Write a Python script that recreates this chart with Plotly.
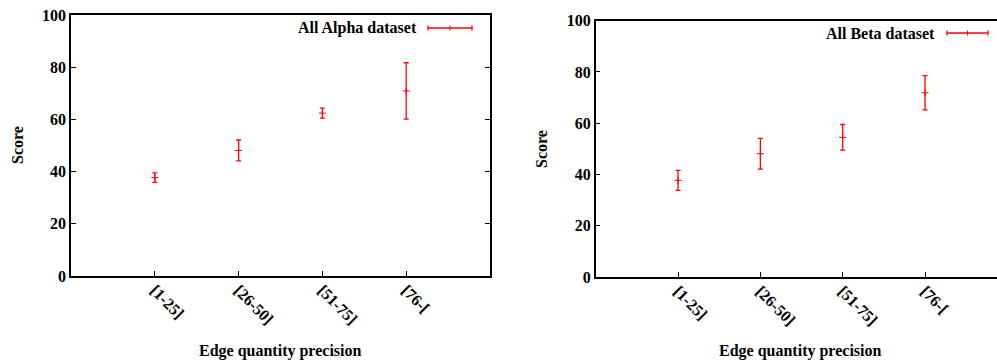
import plotly.graph_objects as go

categories = ["[1-25]", "[26-50]", "[51-75]", "[76-["]
positions = [1, 2, 3, 4]

alpha_scores = [37.7, 48.1, 62.4, 70.9]
alpha_err = [1.8, 4.0, 1.9, 10.8]

beta_scores = [37.7, 48.1, 54.5, 71.9]
beta_err = [3.9, 6.0, 5.0, 6.7]

y_ticks = [0, 20, 40, 60, 80, 100]

FONT = "Liberation Serif"
RED = "#ff0000"

fig = go.Figure()

fig.add_trace(go.Scatter(
    x=positions, y=alpha_scores, mode="markers",
    marker=dict(symbol="cross-thin", size=5, color=RED, line=dict(color=RED, width=1)),
    error_y=dict(type="data", array=alpha_err, visible=True, color=RED, thickness=1.3, width=2.5),
    xaxis="x", yaxis="y", showlegend=False, name="All Alpha dataset"))

fig.add_trace(go.Scatter(
    x=positions, y=beta_scores, mode="markers",
    marker=dict(symbol="cross-thin", size=5, color=RED, line=dict(color=RED, width=1)),
    error_y=dict(type="data", array=beta_err, visible=True, color=RED, thickness=1.3, width=2.5),
    xaxis="x2", yaxis="y2", showlegend=False, name="All Beta dataset"))

tickfont = dict(family=FONT, size=16, color="black", weight="bold")
axis_common = dict(showgrid=False, zeroline=False, linecolor="black", linewidth=1.5,
                   ticks="inside", ticklen=5, tickwidth=1, tickcolor="black",
                   tickfont=tickfont, automargin=False)

W, H = 997, 361
fig.update_layout(
    width=W, height=H, margin=dict(l=0, r=0, t=0, b=0, autoexpand=False),
    plot_bgcolor="white", paper_bgcolor="white",
    font=dict(family=FONT, color="black"),
    xaxis=dict(domain=[71 / W, 490 / W], range=[0, 5], tickmode="array",
               tickvals=positions, ticktext=categories, tickangle=45, ticklabelstandoff=-3,
               mirror=True, showline=True, anchor="y", **axis_common),
    yaxis=dict(domain=[(H - 276) / H, (H - 15) / H], range=[0, 100], tickmode="array",
               tickvals=y_ticks, mirror="ticks", showline=True, anchor="x", **axis_common),
    xaxis2=dict(domain=[595.7 / W, 1.0], range=[0, 4.874], tickmode="array",
                tickvals=positions, ticktext=categories, tickangle=45, ticklabelstandoff=-3,
                mirror=True, showline=True, anchor="y2", **axis_common),
    yaxis2=dict(domain=[(H - 277) / H, (H - 20.7) / H], range=[0, 100], tickmode="array",
                tickvals=y_ticks, mirror=False, showline=True, anchor="x2", **axis_common),
)

title_font = dict(family=FONT, size=16, color="black", weight="bold")
common_ann = dict(xref="paper", yref="paper", showarrow=False, font=title_font,
                  yanchor="middle")
ann = [
    dict(text="Score", x=17 / W, y=(H - 145) / H, textangle=-90, xanchor="center", **common_ann),
    dict(text="Score", x=542 / W, y=(H - 149) / H, textangle=-90, xanchor="center", **common_ann),
    dict(text="Edge quantity precision", x=280 / W, y=(H - 351) / H, xanchor="center", **common_ann),
    dict(text="Edge quantity precision", x=800 / W, y=(H - 351) / H, xanchor="center", **common_ann),
    dict(text="All Alpha dataset", x=419 / W, y=(H - 28) / H, xanchor="right", **common_ann),
    dict(text="All Beta dataset", x=937 / W, y=(H - 33) / H, xanchor="right", **common_ann),
]
fig.update_layout(annotations=ann)

# legend samples (error bar glyphs)
shapes = []
def legend_sample(x0, x1, y):
    yy = (H - y) / H
    cap = 2.5 / H
    xm = (x0 + x1) / 2
    plus = 2.5 / H
    return [
        dict(type="line", xref="paper", yref="paper", x0=x0 / W, x1=x1 / W, y0=yy, y1=yy,
             line=dict(color=RED, width=1.3)),
        dict(type="line", xref="paper", yref="paper", x0=x0 / W, x1=x0 / W, y0=yy - cap, y1=yy + cap,
             line=dict(color=RED, width=1.3)),
        dict(type="line", xref="paper", yref="paper", x0=x1 / W, x1=x1 / W, y0=yy - cap, y1=yy + cap,
             line=dict(color=RED, width=1.3)),
        dict(type="line", xref="paper", yref="paper", x0=xm / W, x1=xm / W, y0=yy - plus, y1=yy + plus,
             line=dict(color=RED, width=1)),
    ]
shapes += legend_sample(428, 472, 28)
shapes += legend_sample(947, 988, 33)
fig.update_layout(shapes=shapes)

fig.write_html("out.html", config={"displayModeBar": False},
               post_script="document.body.style.margin='0';document.body.style.overflow='hidden';")
